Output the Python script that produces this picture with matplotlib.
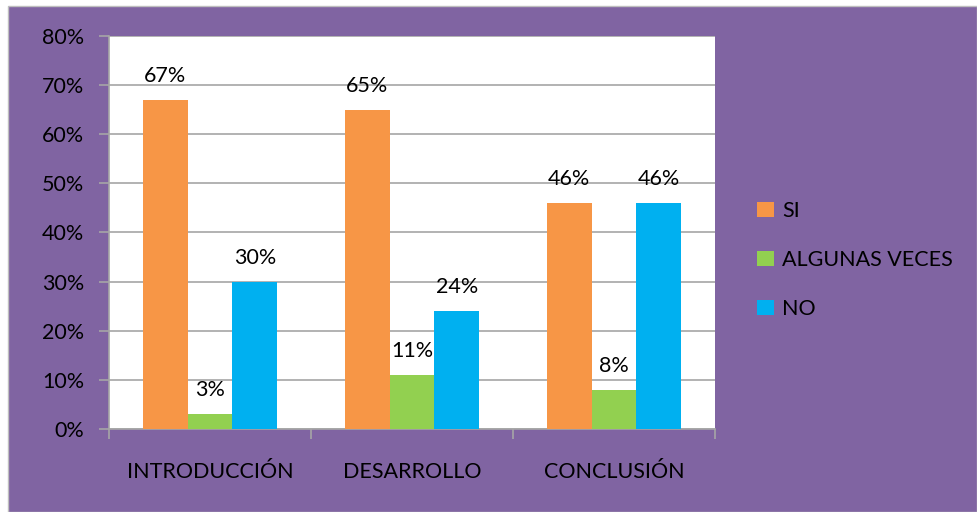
import matplotlib
matplotlib.use("Agg")
import matplotlib.pyplot as plt
import numpy as np
from matplotlib.patches import Rectangle

categories = ["INTRODUCCIÓN", "DESARROLLO", "CONCLUSIÓN"]
series_names = ["SI", "ALGUNAS VECES", "NO"]
si = [67, 65, 46]
algunas = [3, 11, 8]
no = [30, 24, 46]
yticks = [0, 10, 20, 30, 40, 50, 60, 70, 80]

colors = ["#F79646", "#92D050", "#00B0F0"]
purple = "#8064A2"
FS = 15.5

plt.rcParams['font.family'] = ['Lato', 'DejaVu Sans']

W, H = 977, 512
fig = plt.figure(figsize=(W/100, H/100), dpi=100)
fig.patch.set_facecolor("white")
bg = Rectangle((8/W, 0), 1 - 8/W, 1 - 6/H, transform=fig.transFigure,
               facecolor=purple, edgecolor="#BFBFBF", linewidth=1.0, zorder=-10)
fig.patches.append(bg)

left, right, top, bottom = 109, 715, 36, 429
ax = fig.add_axes([left/W, 1 - bottom/H, (right-left)/W, (bottom-top)/H])
ax.set_zorder(1)
ax.set_facecolor("white")

x = np.arange(len(categories))
bw = 0.2225
for i, (vals, name) in enumerate(zip([si, algunas, no], series_names)):
    pos = x + (i - 1) * bw
    ax.bar(pos, vals, width=bw, color=colors[i], label=name, zorder=3)
    for p, v in zip(pos, vals):
        ax.annotate(f"{v}%", (p, v), xytext=(0, 10), textcoords="offset points",
                    ha="center", va="bottom", fontsize=FS, color="black", zorder=4)

ax.set_xlim(-0.5, 2.5)
ax.set_ylim(0, 80)
ax.set_yticks(yticks)
ax.set_yticklabels([f"{t}%" for t in yticks], fontsize=FS)
ax.yaxis.grid(True, color="#A6A6A6", linewidth=1.2, zorder=1)
ax.set_axisbelow(True)
ax.tick_params(axis="y", length=7, color="#A6A6A6", width=1.2, pad=11)

ax.set_xticks(x)
ax.set_xticklabels(categories, fontsize=FS)
ax.set_xticks([-0.5, 0.5, 1.5, 2.5], minor=True)
ax.tick_params(axis="x", which="major", length=0, pad=24)
ax.tick_params(axis="x", which="minor", length=7, color="#A6A6A6", width=1.2)

for s in ["top", "right"]:
    ax.spines[s].set_visible(False)
ax.spines["left"].set_color("#A6A6A6")
ax.spines["left"].set_linewidth(1.2)
ax.spines["bottom"].set_color("#A6A6A6")
ax.spines["bottom"].set_linewidth(1.2)

leg = fig.legend(loc="center left", bbox_to_anchor=(738/W, 1 - 260/H),
                 frameon=False, fontsize=FS, handlelength=0.75, handleheight=0.75,
                 handletextpad=0.4, labelspacing=1.35)

fig.savefig("out.png", dpi=100)
